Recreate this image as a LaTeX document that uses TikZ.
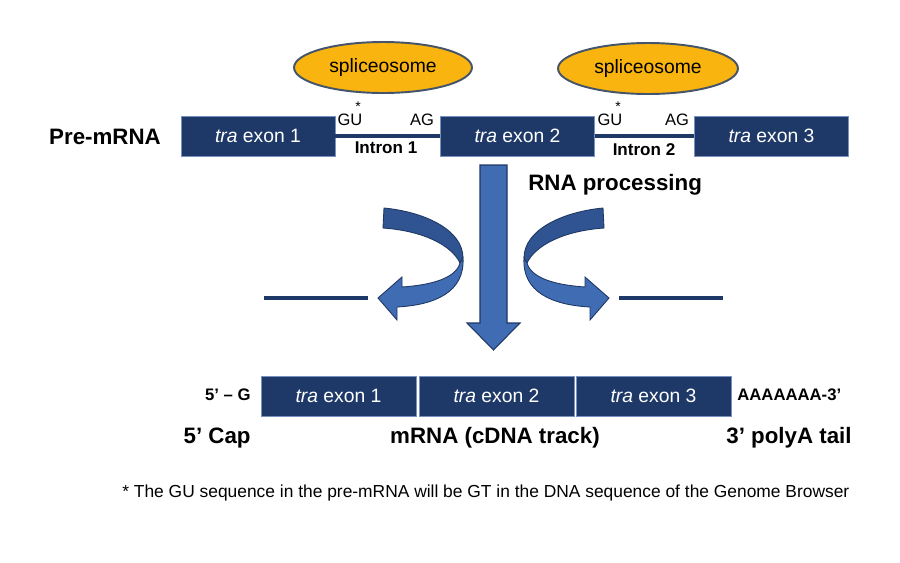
\documentclass[tikz,border=0pt]{standalone}
\usepackage{fontspec}
\setmainfont{Liberation Sans}
\usetikzlibrary{shapes.geometric}
\definecolor{navy}{RGB}{30,57,104}
\definecolor{navyedge}{RGB}{120,145,190}
\definecolor{gold}{RGB}{250,180,15}
\definecolor{slate}{RGB}{68,84,106}
\definecolor{ribbonlight}{RGB}{63,108,178}
\definecolor{ribbondark}{RGB}{47,84,145}
\definecolor{ribbonedge}{RGB}{31,56,100}

\tikzset{
  exon/.style={draw=navyedge, line width=0.4pt, fill=navy, text=white,
    minimum width=3.08cm, minimum height=0.8cm, inner sep=0pt,
    font=\fontsize{11}{13}\selectfont},
  spliceo/.style={ellipse, draw=slate, line width=1.1pt, fill=gold,
    minimum width=3.56cm, minimum height=1.02cm, inner sep=0pt,
    font=\fontsize{11}{13}\selectfont},
  site/.style={inner sep=0pt, font=\fontsize{9.4}{11}\selectfont},
  intronlbl/.style={inner sep=0pt, font=\bfseries\fontsize{9.7}{11}\selectfont},
  biglbl/.style={inner sep=0pt, font=\bfseries\fontsize{12.7}{15}\selectfont},
  endlbl/.style={inner sep=0pt, font=\bfseries\fontsize{9.5}{11}\selectfont},
  intron/.style={navy, line width=2.8pt},
}

\begin{document}
\begin{tikzpicture}[x=0.02cm, y=-0.02cm]
\useasboundingbox[fill=white] (0,0) rectangle (900,562);

% pre-mRNA
\node[biglbl] (pre) at (105,137) {Pre-mRNA};
\node[exon] (ex1) at (258,136) {{\itshape tra} exon 1};
\node[exon] (ex2) at (517.5,136) {{\itshape tra} exon 2};
\node[exon] (ex3) at (771.5,136) {{\itshape tra} exon 3};
\draw[intron] (ex1.east) -- (ex2.west);
\draw[intron] (ex2.east) -- (ex3.west);
\node[site] (gu1) at (350,120) {GU};
\node[site] (ag1) at (422,120) {AG};
\node[site] (gu2) at (610,120) {GU};
\node[site] (ag2) at (677,120) {AG};
\node[site, font=\fontsize{8}{9}\selectfont] (st1) at (358,107) {*};
\node[site, font=\fontsize{8}{9}\selectfont] (st2) at (618,107) {*};
\node[intronlbl] (in1) at (386,148) {Intron 1};
\node[intronlbl] (in2) at (644,150) {Intron 2};

% spliceosomes
\node[spliceo] (sp1) at (383,67.5) {spliceosome};
\node[spliceo, minimum width=3.6cm] (sp2) at (648,68.5) {spliceosome};

% processing arrow
\draw[ribbonedge, line width=0.6pt, fill=ribbonlight]
  (480,165) -- (507,165) -- (507,323) -- (520,323) -- (493.5,350)
  -- (467,323) -- (480,323) -- cycle;
\node[biglbl, anchor=west] (proc) at (528,185) {RNA processing};

% introns leaving, both sides
\foreach \sh/\sc in {0/1, 987/-1}{
  \begin{scope}[shift={(\sh,0)}, xscale=\sc]
  \draw[ribbonedge, line width=0.5pt, fill=ribbondark]
    (384,208) .. controls (425,212) and (463,230) .. (463,258)
    -- (460,263) .. controls (452,246) and (425,231) .. (383,228) -- cycle;
  \draw[ribbonedge, line width=0.5pt, fill=ribbonlight]
    (463,258) .. controls (465,292) and (435,305) .. (397,307)
    -- (397,320) -- (378,298) -- (402,277) -- (402,287)
    .. controls (432,285) and (456,278) .. (460,263) -- cycle;
  \draw[intron] (264,298) -- (368,298);
  \end{scope}
}

% mature mRNA
\node[exon, minimum width=3.1cm] (mx1) at (338.5,396) {{\itshape tra} exon 1};
\node[exon, minimum width=3.1cm] (mx2) at (496.5,396) {{\itshape tra} exon 2};
\node[exon, minimum width=3.1cm] (mx3) at (653.5,396) {{\itshape tra} exon 3};
\node[endlbl, anchor=east] (cap5) at (251,395) {5’ – G};
\node[endlbl, anchor=west] (tail3) at (737,395) {AAAAAAA-3’};
\node[biglbl, anchor=east] (caplbl) at (251,438) {5’ Cap};
\node[biglbl] (mrna) at (495,438) {mRNA (cDNA track)};
\node[biglbl, anchor=west] (taillbl) at (726,438) {3’ polyA tail};

\node[inner sep=0pt, anchor=west, font=\fontsize{9.9}{11}\selectfont] (note) at (122,493)
  {* The GU sequence in the pre-mRNA will be GT in the DNA sequence of the Genome Browser};
\end{tikzpicture}
\end{document}
